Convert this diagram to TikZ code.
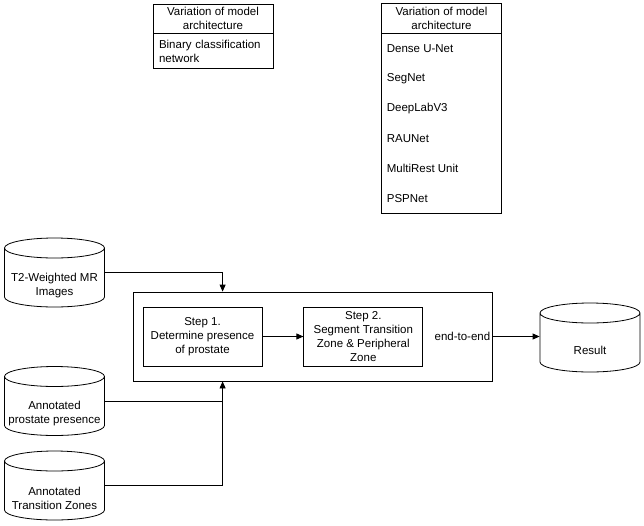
\documentclass[tikz,border=0pt]{standalone}
\usepackage{fontspec}
\setmainfont{Liberation Sans}
\usetikzlibrary{arrows.meta,positioning,shapes.geometric}

\begin{document}
\begin{tikzpicture}[x=1pt, y=-1pt,
font=\fontsize{11.5}{14}\selectfont, line width=0.8pt,
cell/.style={draw, minimum width=120pt, inner sep=0pt, align=center},
listbody/.style={draw, minimum width=120pt, inner sep=6pt, text width=108pt, align=left},
stepbox/.style={draw, align=center, minimum width=119pt, minimum height=59pt, inner sep=2pt},
store/.style={draw, cylinder, shape border rotate=90, aspect=0.2, text width=98pt, minimum width=100pt, minimum height=69pt, inner sep=1pt, anchor=shape center},
storetext/.style={align=center, inner sep=1pt, yshift=-13pt},
arrow/.style={-{Triangle[length=7pt, width=6pt]}}
]
\useasboundingbox (0,0) rectangle (644,525);

\node[cell, minimum height=29pt] (clshead) at (213,18.5) {Variation of model\\architecture};
\node[listbody, below=0pt of clshead, minimum height=30pt] (clsbody) {Binary classification\\network};

\node[cell, minimum height=30pt] (seghead) at (441.5,18) {Variation of model\\architecture};
\node[cell, below=0pt of seghead, minimum height=180pt] (segbody) {};
\foreach \net [count=\i] in {Dense U-Net, SegNet, DeepLabV3, RAUNet, MultiRest Unit, PSPNet}
  \node[anchor=west] (seg\i) at ([shift={(2,{15+30*(\i-1)})}]segbody.north west) {\net};

\node[draw, minimum width=359pt, minimum height=89pt] (pipeline) at (312.5,336.5) {};
\node[stepbox] (step1) at (202.5,336.5) {Step 1.\\Determine presence\\of prostate};
\node[stepbox, right=41pt of step1] (step2) {Step 2.\\Segment Transition\\Zone \& Peripheral\\Zone};
\node[right=9pt of step2, inner sep=2pt] (e2e) {end-to-end};

\node[store] (result) at (590,337.5) {};
\node[storetext] (resulttext) at (result.shape center) {Result};

\node[store] (t2) at (54.5,272.5) {};
\node[storetext] (t2text) at (t2.shape center) {T2-Weighted MR\\Images};
\node[store] (prostate) at (54.5,401) {};
\node[storetext] (prostatetext) at (prostate.shape center) {Annotated\\prostate presence};
\node[store] (zones) at (54.5,485.5) {};
\node[storetext] (zonestext) at (zones.shape center) {Annotated\\Transition Zones};

\coordinate (intop) at ([xshift=90pt]pipeline.north west);
\coordinate (inbot) at ([xshift=90pt]pipeline.south west);

\draw[arrow] (step1) -- (step2);
\draw[arrow] (e2e.east) -- (e2e.east -| result.west);
\draw[arrow] (t2.east |- t2.shape center) -| (intop);
\draw[arrow] (prostate.east |- prostate.shape center) -| (inbot);
\draw (zones.east |- zones.shape center) -| (inbot |- prostate.shape center);
\end{tikzpicture}
\end{document}
